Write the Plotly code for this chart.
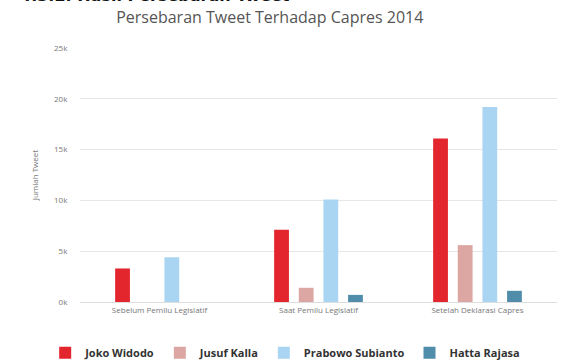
import plotly.graph_objects as go

# Tweet distribution per presidential / vice-presidential candidate, 2014
periods = ["Sebelum Pemilu Legislatif", "Saat Pemilu Legislatif", "Setelah Deklarasi Capres"]
candidates = ["Joko Widodo", "Jusuf Kalla", "Prabowo Subianto", "Hatta Rajasa"]
jokowi = [3300, 7100, 16100]
jusuf_kalla = [0, 1400, 5600]
prabowo = [4400, 10100, 19200]
hatta = [0, 700, 1100]
series = [jokowi, jusuf_kalla, prabowo, hatta]
colors = ["#e3262e", "#dca6a3", "#a9d5f2", "#4f8dab"]

y_ticks = [0, 5000, 10000, 15000, 20000, 25000]
y_tick_text = ["0k", "5k", "10k", "15k", "20k", "25k"]

fig = go.Figure()
for name, vals, col in zip(candidates, series, colors):
    fig.add_trace(go.Bar(name=name, x=periods, y=vals, marker_color=col,
                         marker_line_width=0))

fig.update_layout(
    width=562, height=360,
    margin=dict(l=80, r=5, t=48, b=58, autoexpand=False),
    paper_bgcolor="white", plot_bgcolor="white",
    barmode="group", bargap=0.38, bargroupgap=0.4,
    font=dict(family="Open Sans, DejaVu Sans, sans-serif", color="#666"),
    title=dict(text="Persebaran Tweet Terhadap Capres 2014",
               x=0.48, xanchor="center", y=0.953, yanchor="middle",
               font=dict(size=16, color="#555")),
    showlegend=True,
    legend=dict(orientation="h", x=-0.073, xanchor="left",
                y=-0.143, yanchor="top",
                font=dict(size=11, color="#333", weight="bold"), itemwidth=30,
                traceorder="normal"),
)
fig.update_xaxes(showline=True, linecolor="#ddd", linewidth=1,
                 ticks="", tickfont=dict(size=8, color="#777"),
                 showgrid=False)
fig.update_yaxes(range=[0, 25000], tickvals=y_ticks, ticktext=y_tick_text,
                 tickfont=dict(size=8, color="#777"), gridcolor="#e6e6e6",
                 zeroline=False, ticks="outside", ticklen=10,
                 tickcolor="rgba(0,0,0,0)", automargin=False,
                 title=dict(text="Jumlah Tweet", font=dict(size=8, color="#777"),
                            standoff=14))

# Section heading of the surrounding document, mostly above the canvas
fig.add_annotation(text="<b>4.3.2. Hasil Persebaran Tweet</b>", xref="paper", yref="paper",
                   x=-0.131, xanchor="left", y=1.162, yanchor="bottom",
                   showarrow=False, font=dict(size=16, color="#111",
                                              family="DejaVu Sans, sans-serif"))

fig.write_html("out.html")
